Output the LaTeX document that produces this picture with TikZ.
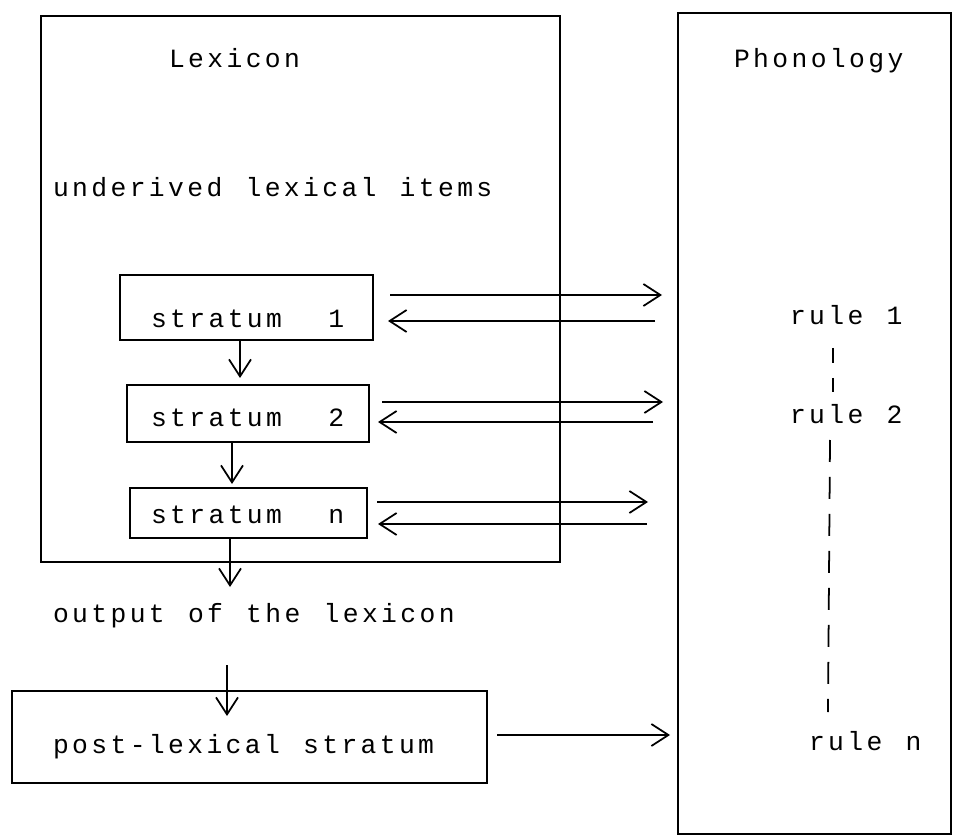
\documentclass[tikz,border=0pt]{standalone}
\usepackage{fontspec}
\newfontfamily\druck[LetterSpace=12.8,WordSpace=1.21]{Liberation Mono}
\usetikzlibrary{arrows.meta}

\begin{document}
\begin{tikzpicture}[x=0.02cm, y=-0.02cm, line width=1.2pt,
	pfeil/.style={line width=1pt, -{Straight Barb[length=3.4mm, width=4.4mm]}},
	schrift/.style={anchor=base west, inner sep=0pt, font=\druck\fontsize{15}{18}\selectfont}]
	\useasboundingbox (0,0) rectangle (956,837);
	
	\draw (41,16) rectangle (560,562);%Rahmen Lexikon
	\draw (678,13) rectangle (951,834);%Rahmen Phonologie
	\node[schrift] (lex) at (168,68) {Lexicon};
	\node[schrift] (pho) at (733,68) {Phonology};
	\node[schrift] (und) at (52,197) {underived lexical items};
	
	%Strata
	\draw (120,275) rectangle (373,340);
	\node[schrift] (s1) at (150,328) {stratum\ \ 1};
	\draw (127,385) rectangle (369,442);
	\node[schrift] (s2) at (150,426) {stratum\ \ 2};
	\draw (130,488) rectangle (367,538);
	\node[schrift] (sn) at (150,523) {stratum\ \ n};
	
	\coordinate (A) at (240,340);
	\coordinate (B) at (240,378);
	\coordinate (C) at (232,442);
	\coordinate (D) at (232,484);
	\coordinate (E) at (230,538);
	\coordinate (F) at (230,587);
	\draw[pfeil] (A) -- (B);
	\draw[pfeil] (C) -- (D);
	\draw[pfeil] (E) -- (F);
	
	%Pfeile zur Phonologie und zurueck
	\coordinate (a1) at (390,295);
	\coordinate (b1) at (662,295);
	\coordinate (c1) at (655,321);
	\coordinate (d1) at (388,321);
	\draw[pfeil] (a1) -- (b1);
	\draw[pfeil] (c1) -- (d1);
	\coordinate (a2) at (382,402);
	\coordinate (b2) at (663,402);
	\coordinate (c2) at (653,422);
	\coordinate (d2) at (378,422);
	\draw[pfeil] (a2) -- (b2);
	\draw[pfeil] (c2) -- (d2);
	\coordinate (a3) at (377,502);
	\coordinate (b3) at (648,502);
	\coordinate (c3) at (647,524);
	\coordinate (d3) at (378,524);
	\draw[pfeil] (a3) -- (b3);
	\draw[pfeil] (c3) -- (d3);
	
	\node[schrift] (out) at (52,622) {output of the lexicon};
	\coordinate (G) at (227,665);
	\coordinate (H) at (227,716);
	\draw[pfeil] (G) -- (H);
	
	%postlexikalisches Stratum
	\draw (12,691) rectangle (487,783);
	\node[schrift] (post) at (52,753) {post-lexical stratum};
	\coordinate (I) at (497,735);
	\coordinate (J) at (670,735);
	\draw[pfeil] (I) -- (J);
	
	%Regeln
	\node[schrift] (r1) at (789,325) {rule 1};
	\node[schrift] (r2) at (789,423) {rule 2};
	\node[schrift] (rn) at (808,750) {rule n};
	\coordinate (K) at (833,348);
	\coordinate (L) at (833,392);
	\coordinate (M) at (830,440);
	\coordinate (N) at (828,712);
	\draw[line width=1pt, dash pattern=on 3mm off 3mm] (K) -- (L);
	\draw[line width=1pt, dash pattern=on 4.4mm off 3mm] (M) -- (N);
\end{tikzpicture}
\end{document}
